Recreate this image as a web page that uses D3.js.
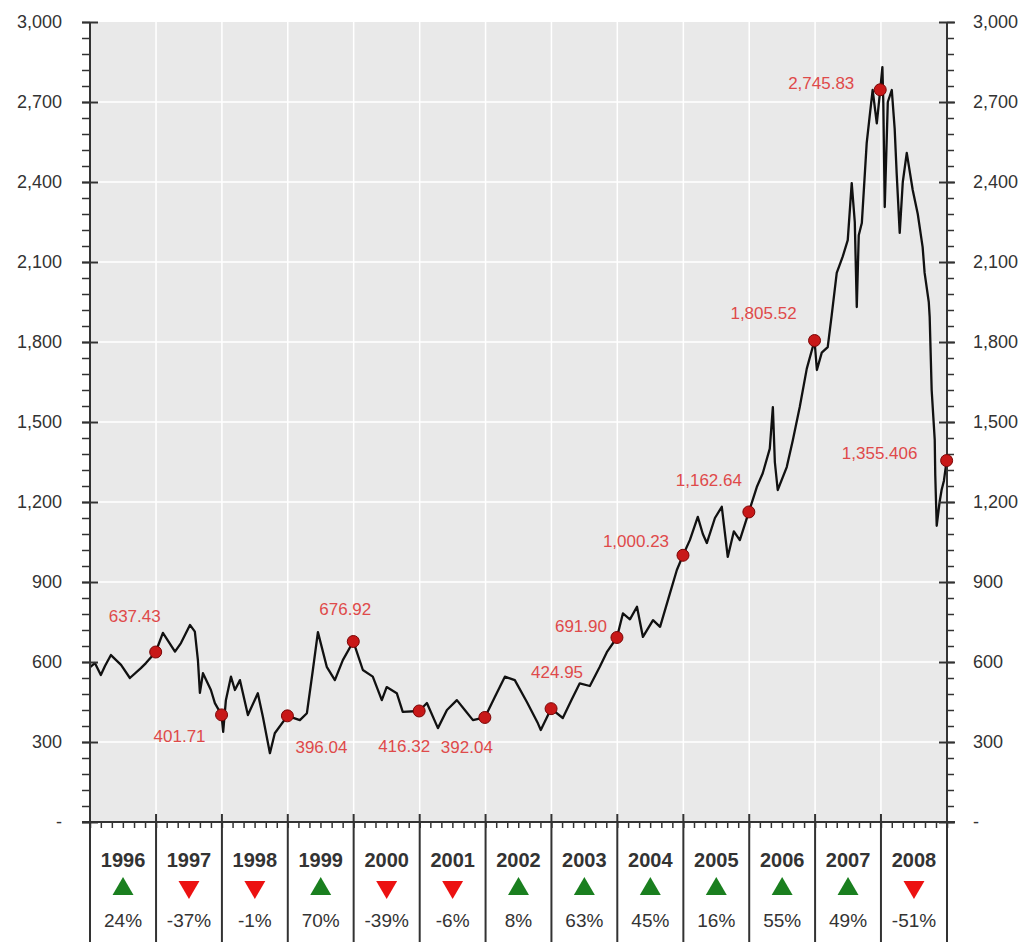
<!DOCTYPE html>
<html>
<head>
<meta charset="utf-8">
<title>Index 1996-2008</title>
<script src="https://cdn.jsdelivr.net/npm/d3@7"></script>
<style>
  body { margin: 0; background: #fff; }
  text { font-family: "Liberation Sans", Arial, sans-serif; }
</style>
</head>
<body>
<div id="chart"></div>
<script>
// index path
var priceDates = [
  "1996-01-02","1996-01-28","1996-03-01","1996-03-24","1996-04-26","1996-06-21","1996-08-09","1996-10-09","1996-11-06","1996-12-30",
  "1997-02-08","1997-04-16","1997-05-19","1997-07-08","1997-08-04","1997-08-21","1997-09-01","1997-09-18","1997-11-01","1997-11-23","1997-12-30",
  "1998-01-08","1998-01-23","1998-02-20","1998-03-14","1998-04-11","1998-05-25","1998-07-19","1998-08-16","1998-09-24","1998-10-21","1998-12-30",
  "1999-03-09","1999-04-17","1999-05-20","1999-06-17","1999-08-05","1999-09-19","1999-11-02","1999-12-30",
  "2000-02-21","2000-04-16","2000-06-05","2000-07-02","2000-08-27","2000-09-29","2000-12-29",
  "2001-02-10","2001-04-12","2001-06-01","2001-07-26","2001-09-08","2001-10-23","2001-12-28",
  "2002-02-22","2002-04-18","2002-06-12","2002-08-18","2002-10-18","2002-11-03","2002-12-30",
  "2003-03-05","2003-04-24","2003-06-07","2003-08-02","2003-09-26","2003-11-04","2003-12-30",
  "2004-02-01","2004-03-11","2004-04-19","2004-05-22","2004-07-17","2004-08-25","2004-10-19","2004-11-26","2004-12-30",
  "2005-02-06","2005-03-22","2005-04-19","2005-05-11","2005-06-25","2005-08-02","2005-09-04","2005-10-08","2005-11-10","2005-12-30",
  "2006-02-12","2006-03-17","2006-04-25","2006-05-12","2006-05-23","2006-06-08","2006-07-28","2006-08-30","2006-10-08","2006-11-16","2006-12-29",
  "2007-01-11","2007-02-07","2007-03-12","2007-04-03","2007-05-01","2007-06-03","2007-07-01","2007-07-23","2007-08-09","2007-08-20","2007-08-31",
  "2007-09-17","2007-10-14","2007-10-31","2007-11-16","2007-12-09","2007-12-28",
  "2008-01-09","2008-01-14","2008-01-22","2008-02-08","2008-03-01","2008-03-17","2008-03-28","2008-04-14","2008-05-01","2008-05-23","2008-06-25",
  "2008-07-23","2008-08-19","2008-08-30","2008-09-22","2008-09-27","2008-10-08","2008-10-25","2008-10-28","2008-11-05","2008-11-21","2008-12-02","2008-12-15","2008-12-30"
];
var priceValues = [
  581,596,551,585,626,589,540,577,596,637.43,
  709,639,671,739,714,607,484,558,495,446,401.71,
  338,457,545,495,532,401,483,395,258,333,398.04,
  382,408,570,712,582,532,607,676.92,
  570,545,457,506,483,413,416.32,
  446,352,420,457,420,382,392.04,
  470,545,532,450,370,345,424.95,
  390,460,520,510,582,637,691.90,
  782,760,807,694,757,732,858,945,1000.23,
  1057,1144,1080,1046,1140,1182,994,1090,1057,1162.64,
  1256,1308,1400,1556,1350,1245,1331,1430,1556,1700,1805.52,
  1695,1760,1781,1900,2059,2120,2182,2396,2250,1931,2200,
  2246,2546,2650,2745,2620,2745.83,
  2831,2700,2306,2700,2745,2600,2434,2209,2400,2509,2370,
  2280,2156,2059,1950,1894,1620,1433,1300,1111,1200,1245,1280,1355.41
];

// year-end closes and yearly change
var years = [1996,1997,1998,1999,2000,2001,2002,2003,2004,2005,2006,2007,2008];
var closeDates = ["1996-12-30","1997-12-30","1998-12-30","1999-12-30","2000-12-29","2001-12-28","2002-12-30",
                  "2003-12-30","2004-12-30","2005-12-30","2006-12-29","2007-12-28","2008-12-30"];
var closeValues = [637.43,401.71,398.04,676.92,416.32,392.04,424.95,691.90,1000.23,1162.64,1805.52,2745.83,1355.41];
var closeLabels = ["637.43","401.71","396.04","676.92","416.32","392.04","424.95","691.90","1,000.23","1,162.64","1,805.52","2,745.83","1,355.406"];
var yearChange = [24,-37,-1,70,-39,-6,8,63,45,16,55,49,-51];

var yTicks = [0,300,600,900,1200,1500,1800,2100,2400,2700,3000];

// label offsets from each dot (layout only)
var labelOffsets = [[-21,-30],[-42,27],[34,37],[-8,-26],[-15,41],[-18,36],[6,-31],[-36,-5],[-47,-8],[-40,-26],[-51,-22],[-59,-1],[-67,-2]];

var width = 1031, height = 942;
var plotL = 90, plotR = 947, plotT = 22, plotB = 822;

var parse = d3.timeParse("%Y-%m-%d");
var series = priceDates.map(function(d, i){ return {date: parse(d), value: priceValues[i]}; });
var closes = closeDates.map(function(d, i){
  return {date: parse(d), value: closeValues[i], label: closeLabels[i], off: labelOffsets[i]};
});

var x = d3.scaleTime()
  .domain([new Date(1996,0,1), new Date(2009,0,1)])
  .range([plotL, plotR]);
var y = d3.scaleLinear().domain([0,3000]).range([plotB, plotT]);

var svg = d3.select("#chart").append("svg")
  .attr("width", width).attr("height", height);

// plot background
svg.append("rect")
  .attr("x", plotL).attr("y", plotT)
  .attr("width", plotR-plotL).attr("height", plotB-plotT)
  .attr("fill", "#e9e9e9");

// white grid
svg.append("g").selectAll("line")
  .data(yTicks.slice(1, -1))
  .enter().append("line")
    .attr("x1", plotL).attr("x2", plotR)
    .attr("y1", d => y(d)).attr("y2", d => y(d))
    .attr("stroke", "#fff").attr("stroke-width", 1.5);

var yearStarts = years.map(function(yr){ return new Date(yr,0,1); }).slice(1);
svg.append("g").selectAll("line")
  .data(yearStarts)
  .enter().append("line")
    .attr("x1", d => x(d)).attr("x2", d => x(d))
    .attr("y1", plotT).attr("y2", plotB)
    .attr("stroke", "#fff").attr("stroke-width", 1.5);

// price line
var line = d3.line().x(d => x(d.date)).y(d => y(d.value));
svg.append("path")
  .datum(series)
  .attr("d", line)
  .attr("fill", "none")
  .attr("stroke", "#111")
  .attr("stroke-width", 2.3)
  .attr("stroke-linejoin", "round");

// y axes
var fmt = function(d){ return d === 0 ? "-" : d3.format(",")(d); };

function styleAxis(g){
  g.select(".domain").remove();
  g.selectAll("line").attr("stroke", "#333").attr("stroke-width", 2);
  g.selectAll("text").attr("fill", "#333").style("font-size", "18px");
}

var minorY = d3.range(0, 3001, 60);

var leftMinor = svg.append("g").attr("transform", "translate(" + plotL + ",0)")
  .call(d3.axisLeft(y).tickValues(minorY).tickSize(8).tickFormat(""));
styleAxis(leftMinor);
leftMinor.selectAll("line").attr("stroke-width", 1.5);

var leftAxis = svg.append("g").attr("transform", "translate(" + plotL + ",0)")
  .call(d3.axisLeft(y).tickValues(yTicks).tickSize(8).tickPadding(20).tickFormat(fmt));
styleAxis(leftAxis);
leftAxis.selectAll("line").attr("x2", -8).attr("x1", 8);

var rightMinor = svg.append("g").attr("transform", "translate(" + plotR + ",0)")
  .call(d3.axisRight(y).tickValues(minorY).tickSize(7).tickFormat(""));
styleAxis(rightMinor);
rightMinor.selectAll("line").attr("stroke-width", 1.5);

var rightAxis = svg.append("g").attr("transform", "translate(" + plotR + ",0)")
  .call(d3.axisRight(y).tickValues(yTicks).tickSize(8).tickPadding(18).tickFormat(fmt));
styleAxis(rightAxis);
rightAxis.selectAll("line").attr("x1", -8).attr("x2", 8);

// vertical axis lines, they run on into the year table
svg.append("g").selectAll("line")
  .data([plotL, plotR])
  .enter().append("line")
    .attr("x1", d => d).attr("x2", d => d)
    .attr("y1", plotT).attr("y2", height)
    .attr("stroke", "#333").attr("stroke-width", 2);

// bottom axis with two-month ticks
var bottomAxis = svg.append("g").attr("transform", "translate(0," + plotB + ")")
  .call(d3.axisBottom(x).ticks(d3.timeMonth.every(2)).tickSize(6).tickFormat(""));
styleAxis(bottomAxis);
bottomAxis.selectAll("line").attr("stroke-width", 1.5);

svg.append("line")
  .attr("x1", plotL - 8).attr("x2", plotR + 8)
  .attr("y1", plotB).attr("y2", plotB)
  .attr("stroke", "#333").attr("stroke-width", 2);

// year dividers
svg.append("g").selectAll("line")
  .data(yearStarts)
  .enter().append("line")
    .attr("x1", d => x(d)).attr("x2", d => x(d))
    .attr("y1", plotB - 8).attr("y2", height)
    .attr("stroke", "#333").attr("stroke-width", 2);

// year table
var cells = svg.append("g").selectAll("g")
  .data(years)
  .enter().append("g")
    .attr("transform", function(d){
      var cx = (x(new Date(d,0,1)) + x(new Date(d+1,0,1))) / 2;
      return "translate(" + cx + ",0)";
    });

cells.append("text")
  .attr("y", 867)
  .attr("text-anchor", "middle")
  .attr("fill", "#333")
  .style("font-size", "20px")
  .style("font-weight", "bold")
  .text(d => d);

cells.append("path")
  .attr("d", d3.symbol().type(d3.symbolTriangle).size(190))
  .attr("transform", function(d, i){
    return yearChange[i] >= 0 ? "translate(0,889)" : "translate(0,887) rotate(180)";
  })
  .attr("fill", (d, i) => yearChange[i] >= 0 ? "#1a7f1f" : "#ec1111");

cells.append("text")
  .attr("y", 927)
  .attr("text-anchor", "middle")
  .attr("fill", "#333")
  .style("font-size", "19px")
  .text((d, i) => yearChange[i] + "%");

// year-end dots and labels
svg.append("g").selectAll("circle")
  .data(closes)
  .enter().append("circle")
    .attr("cx", d => x(d.date))
    .attr("cy", d => y(d.value))
    .attr("r", 6)
    .attr("fill", "#c81818")
    .attr("stroke", "#7a0505")
    .attr("stroke-width", 1);

svg.append("g").selectAll("text")
  .data(closes)
  .enter().append("text")
    .attr("x", d => x(d.date) + d.off[0])
    .attr("y", d => y(d.value) + d.off[1])
    .attr("text-anchor", "middle")
    .attr("fill", "#df4a4a")
    .style("font-size", "17px")
    .text(d => d.label);
</script>
</body>
</html>
